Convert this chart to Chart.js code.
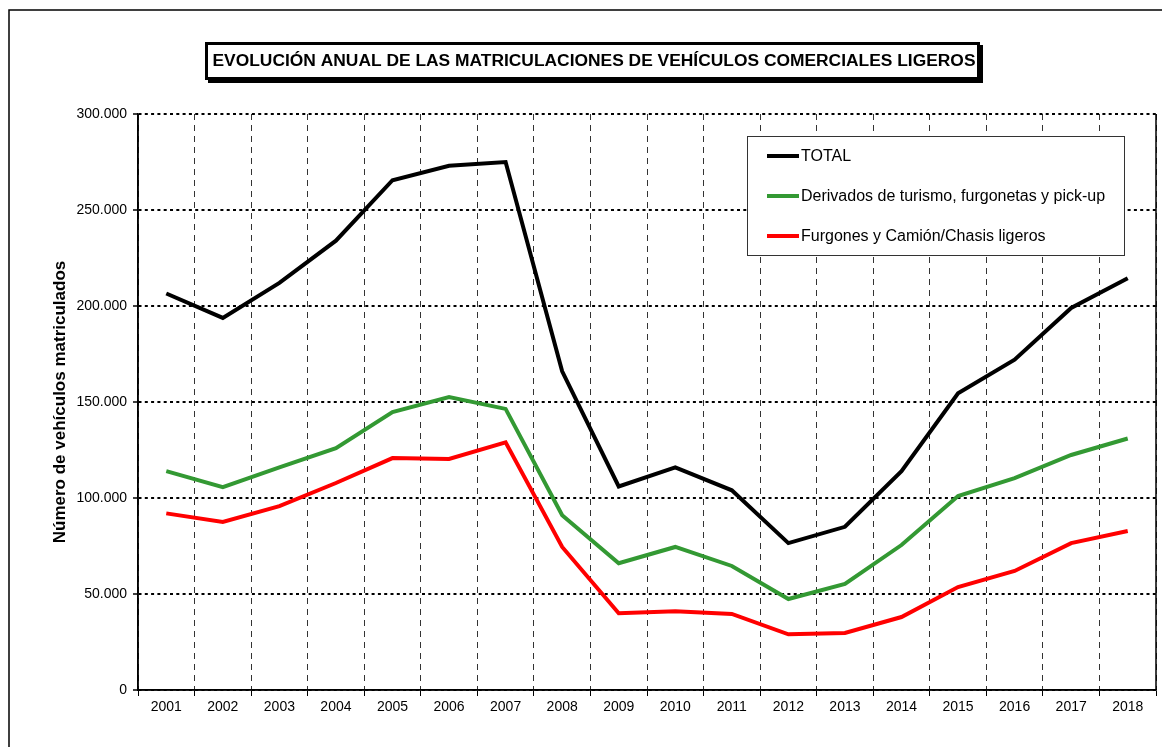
<!DOCTYPE html>
<html>
<head>
<meta charset="utf-8">
<script src="https://cdn.jsdelivr.net/npm/chart.js@4.4.1/dist/chart.umd.min.js"></script>
<style>
  html, body { margin: 0; padding: 0; background: #fff; }
  #wrap { width: 1162px; height: 747px; position: relative; }
</style>
</head>
<body>
<div id="wrap"><canvas id="chart"></canvas></div>
<script>
const years = ['2001','2002','2003','2004','2005','2006','2007','2008','2009','2010','2011','2012','2013','2014','2015','2016','2017','2018'];
const total = [206500, 193800, 212000, 234000, 265500, 273000, 275000, 166000, 106000, 116000, 104000, 76500, 85000, 114000, 154500, 172000, 199000, 214500];
const derivados = [114000, 105700, 116000, 126000, 144800, 152600, 146400, 91000, 66000, 74500, 64600, 47400, 55200, 75500, 101000, 110400, 122400, 131000];
const furgones = [92000, 87500, 95800, 107800, 120800, 120300, 129000, 74500, 40000, 41000, 39600, 29000, 29700, 38000, 53600, 62000, 76500, 82800];
const yTicks = [0, 50000, 100000, 150000, 200000, 250000, 300000];

const titleText = 'EVOLUCIÓN ANUAL DE LAS MATRICULACIONES DE VEHÍCULOS COMERCIALES LIGEROS';
const FONT = 'Arial, "Liberation Sans", sans-serif';

function fmt(v) {
    return String(v).replace(/\B(?=(\d{3})+(?!\d))/g, '.');
}

// frame, solid axes, title box and legend box
const decor = {
    id: 'decor',
    afterDraw(chart) {
        const ctx = chart.ctx;
        const a = chart.chartArea;
        ctx.save();
        // outer frame
        ctx.strokeStyle = '#000';
        ctx.lineWidth = 1.5;
        ctx.strokeRect(9, 10, 1200, 800);
        // left, bottom and right sides of the plot
        ctx.beginPath();
        ctx.moveTo(a.left, a.top);
        ctx.lineTo(a.left, a.bottom);
        ctx.lineTo(a.right, a.bottom);
        ctx.moveTo(a.right, a.top);
        ctx.lineTo(a.right, a.bottom);
        ctx.stroke();
        // title box with shadow
        ctx.fillStyle = '#000';
        ctx.fillRect(208, 45, 775, 38);
        ctx.fillStyle = '#fff';
        ctx.fillRect(205, 42, 775, 38);
        ctx.lineWidth = 3;
        ctx.strokeRect(206.5, 43.5, 772, 35);
        ctx.fillStyle = '#000';
        ctx.font = 'bold 17.4px ' + FONT;
        ctx.textAlign = 'center';
        ctx.textBaseline = 'middle';
        ctx.fillText(titleText, 594, 61);
        // legend
        ctx.fillStyle = '#fff';
        ctx.fillRect(747, 136, 377, 119);
        ctx.lineWidth = 1;
        ctx.strokeStyle = '#333';
        ctx.strokeRect(747.5, 136.5, 377, 119);
        ctx.font = '16px ' + FONT;
        ctx.textAlign = 'left';
        chart.data.datasets.forEach((ds, i) => {
            const y = 156 + i * 40;
            ctx.strokeStyle = ds.borderColor;
            ctx.lineWidth = 4;
            ctx.beginPath();
            ctx.moveTo(767, y);
            ctx.lineTo(799, y);
            ctx.stroke();
            ctx.fillStyle = '#000';
            ctx.fillText(ds.label, 801, y + 1);
        });
        ctx.restore();
    }
};

const ctx = document.getElementById('chart').getContext('2d');
const myChart = new Chart(ctx, {
    type: 'line',
    data: {
        labels: years,
        datasets: [{
            label: 'TOTAL',
            data: total,
            borderColor: '#000000',
            borderWidth: 4
        }, {
            label: 'Derivados de turismo, furgonetas y pick-up',
            data: derivados,
            borderColor: '#339933',
            borderWidth: 4
        }, {
            label: 'Furgones y Camión/Chasis ligeros',
            data: furgones,
            borderColor: '#ff0000',
            borderWidth: 4
        }]
    },
    options: {
        responsive: true,
        maintainAspectRatio: false,
        animation: false,
        layout: { padding: { top: 114, right: 6, left: 0, bottom: 0 } },
        elements: {
            point: { radius: 0, hoverRadius: 0 },
            line: { tension: 0, borderCapStyle: 'butt', borderJoinStyle: 'miter' }
        },
        plugins: {
            legend: { display: false },
            title: { display: false },
            tooltip: { enabled: false }
        },
        scales: {
            x: {
                offset: true,
                grid: {
                    offset: true,
                    color: '#333',
                    lineWidth: 1,
                    tickLength: 6,
                    tickBorderDash: [],
                    tickColor: '#000'
                },
                border: { color: '#000', width: 1.5, dash: [6, 5] },
                ticks: {
                    color: '#000',
                    font: { family: FONT, size: 14 },
                    padding: 3,
                    maxRotation: 0,
                    autoSkip: false
                },
                afterFit: s => { s.height = 57; }
            },
            y: {
                min: 0,
                max: 300000,
                afterBuildTicks: s => { s.ticks = yTicks.map(v => ({ value: v })); },
                grid: {
                    color: '#000',
                    lineWidth: 2,
                    tickLength: 5,
                    tickBorderDash: [],
                    tickColor: '#000',
                    tickWidth: 1.5
                },
                border: { color: '#000', width: 1.5, dash: [3, 3.3] },
                ticks: {
                    color: '#000',
                    font: { family: FONT, size: 14 },
                    padding: 6,
                    callback: v => fmt(v)
                },
                title: {
                    display: true,
                    text: 'Número de vehículos matriculados',
                    color: '#000',
                    font: { family: FONT, size: 17, weight: 'bold' },
                    padding: { top: 50, bottom: 0 }
                },
                afterFit: s => { s.width = 138; }
            }
        }
    },
    plugins: [decor]
});
</script>
</body>
</html>
